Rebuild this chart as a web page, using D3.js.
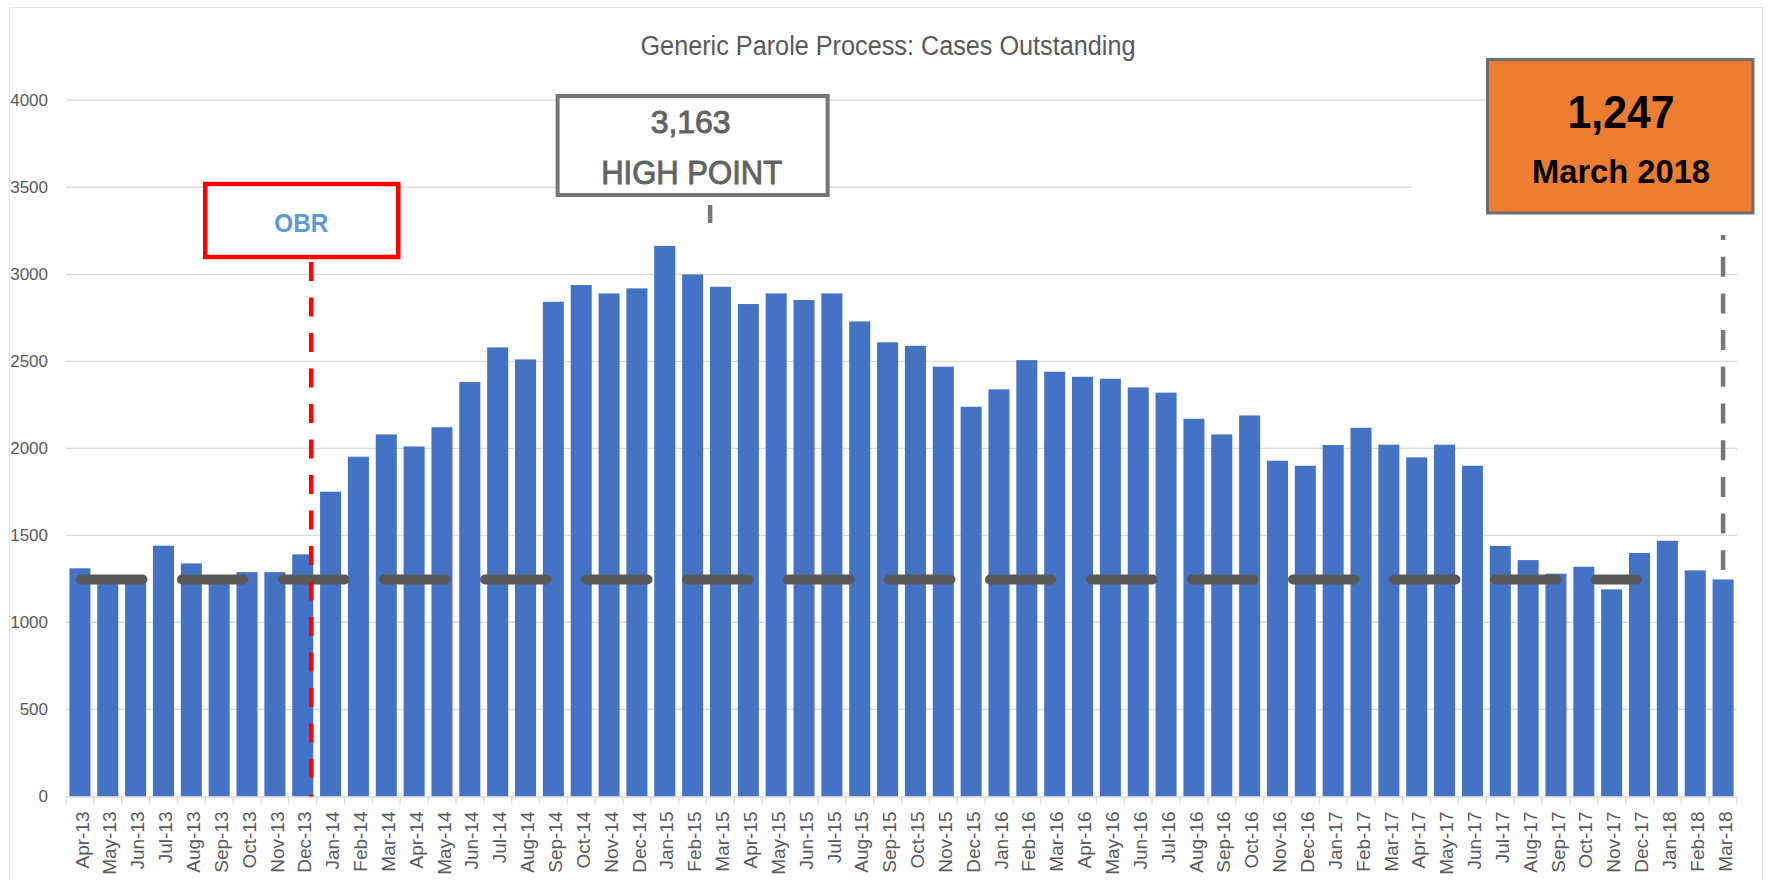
<!DOCTYPE html>
<html>
<head>
<meta charset="utf-8">
<script src="https://cdn.jsdelivr.net/npm/d3@7"></script>
<style>
  body { margin: 0; background: #fff; }
  svg { display: block; font-family: "Liberation Sans", Arial, sans-serif; }
</style>
</head>
<body>
<svg id="chart" width="1769" height="880"></svg>
<script>
// Data
const months = [
  "Apr-13", "May-13", "Jun-13", "Jul-13", "Aug-13", "Sep-13", "Oct-13", "Nov-13", "Dec-13",
  "Jan-14", "Feb-14", "Mar-14", "Apr-14", "May-14", "Jun-14", "Jul-14", "Aug-14", "Sep-14", "Oct-14", "Nov-14", "Dec-14",
  "Jan-15", "Feb-15", "Mar-15", "Apr-15", "May-15", "Jun-15", "Jul-15", "Aug-15", "Sep-15", "Oct-15", "Nov-15", "Dec-15",
  "Jan-16", "Feb-16", "Mar-16", "Apr-16", "May-16", "Jun-16", "Jul-16", "Aug-16", "Sep-16", "Oct-16", "Nov-16", "Dec-16",
  "Jan-17", "Feb-17", "Mar-17", "Apr-17", "May-17", "Jun-17", "Jul-17", "Aug-17", "Sep-17", "Oct-17", "Nov-17", "Dec-17",
  "Jan-18", "Feb-18", "Mar-18"
];
const cases = [
  1311, 1240, 1235, 1441, 1339, 1245, 1289, 1289, 1391,
  1751, 1952, 2080, 2011, 2121, 2381, 2580, 2511, 2842, 2938, 2890, 2919,
  3163, 2999, 2928, 2829, 2890, 2852, 2890, 2729, 2609, 2589, 2469, 2239,
  2339, 2507, 2440, 2411, 2400, 2350, 2320, 2170, 2080, 2189, 1929, 1900,
  2019, 2118, 2021, 1948, 2021, 1900, 1439, 1358, 1280, 1320, 1190, 1399,
  1469, 1299, 1247
];
const yTicks = [0, 500, 1000, 1500, 2000, 2500, 3000, 3500, 4000];
const baselineValue = 1247;

const chartTitle = "Generic Parole Process: Cases Outstanding";
const obrMonth = "Dec-13";
const obrLabel = "OBR";
const peakMonth = "Feb-15";
const peakLabel = ["3,163", "HIGH POINT"];
const latestMonth = "Mar-18";
const latestLabel = ["1,247", "March 2018"];

// Colors
const barBlue = "#4472c4";
const gridGray = "#d9d9d9";
const textGray = "#595959";

const svg = d3.select("#chart");

// Chart area border
svg.append("rect")
  .attr("x", 9.5)
  .attr("y", 7.5)
  .attr("width", 1753)
  .attr("height", 890)
  .attr("fill", "#fff")
  .attr("stroke", "#e3e3e3");

// Scales
const pad = 0.245;
const xScale = d3.scaleBand()
  .domain(months)
  .range([66, 1737])
  .paddingInner(pad)
  .paddingOuter(pad / 2);
const step = xScale.step();
const yScale = d3.scaleLinear()
  .domain([0, 4000])
  .range([796.5, 100.2]);

// Title
svg.append("text")
  .attr("x", 888)
  .attr("y", 55)
  .attr("text-anchor", "middle")
  .attr("font-size", 27)
  .attr("textLength", 495)
  .attr("lengthAdjust", "spacingAndGlyphs")
  .attr("fill", textGray)
  .text(chartTitle);

// Gridlines
svg.append("g")
  .selectAll("line")
  .data(yTicks.filter(d => d > 0))
  .join("line")
    .attr("x1", 66)
    .attr("x2", 1737)
    .attr("y1", d => yScale(d))
    .attr("y2", d => yScale(d))
    .attr("stroke", gridGray)
    .attr("stroke-width", 1.3);

// the 3500 gridline stops short on the right in the original
svg.append("rect")
  .attr("x", xScale("Apr-17") + 6)
  .attr("y", yScale(3580))
  .attr("width", 340)
  .attr("height", yScale(3420) - yScale(3580))
  .attr("fill", "#fff");

// Y labels
svg.append("g")
  .selectAll("text")
  .data(yTicks)
  .join("text")
    .attr("x", 48)
    .attr("y", d => yScale(d))
    .attr("dy", "0.35em")
    .attr("text-anchor", "end")
    .attr("font-size", 17)
    .attr("fill", textGray)
    .text(d => d);

// Bars
svg.append("g")
  .selectAll("rect")
  .data(months)
  .join("rect")
    .attr("x", d => xScale(d))
    .attr("width", xScale.bandwidth())
    .attr("y", (d, i) => yScale(cases[i]))
    .attr("height", (d, i) => yScale(0) - yScale(cases[i]))
    .attr("fill", barBlue);

// X axis
const bottomAxis = d3.axisBottom(xScale).tickSize(0).tickSizeOuter(0);
const xAxis = svg.append("g")
  .attr("class", "axis-x")
  .attr("transform", `translate(0,${yScale(0)})`)
  .call(bottomAxis);
xAxis.select(".domain")
  .attr("stroke", gridGray)
  .attr("stroke-width", 1.5);
xAxis.selectAll("text")
  .attr("transform", "rotate(-90)")
  .attr("text-anchor", "end")
  .attr("x", -15)
  .attr("y", 2)
  .attr("dy", "0.35em")
  .attr("font-size", 19)
  .attr("font-family", "Liberation Sans, Arial, sans-serif")
  .attr("fill", textGray);

// tick marks sit between categories
xAxis.selectAll(".boundary")
  .data(months.concat("end"))
  .join("line")
    .attr("class", "boundary")
    .attr("x1", (d, i) => xScale.range()[0] + i * step)
    .attr("x2", (d, i) => xScale.range()[0] + i * step)
    .attr("y1", 0)
    .attr("y2", 7)
    .attr("stroke", gridGray)
    .attr("stroke-width", 1.3);

// Dashed reference line at the current value
svg.append("line")
  .attr("x1", xScale.range()[0] + 15)
  .attr("x2", xScale("Dec-17") + 8)
  .attr("y1", yScale(baselineValue))
  .attr("y2", yScale(baselineValue))
  .attr("stroke", textGray)
  .attr("stroke-width", 10)
  .attr("stroke-linecap", "round")
  .attr("stroke-dasharray", "61.5,39.5");

// OBR marker
const obrX = xScale(obrMonth) + xScale.bandwidth() - 2;
svg.append("line")
  .attr("x1", obrX)
  .attr("x2", obrX)
  .attr("y1", 262)
  .attr("y2", yScale(0))
  .attr("stroke", "#ff0000")
  .attr("stroke-width", 4.5)
  .attr("stroke-dasharray", "19,16.5");

svg.append("rect")
  .attr("x", obrX - 106)
  .attr("y", 184)
  .attr("width", 193)
  .attr("height", 73)
  .attr("fill", "#fff")
  .attr("stroke", "#ff0000")
  .attr("stroke-width", 4.5);

svg.append("text")
  .attr("x", obrX - 10)
  .attr("y", 232)
  .attr("text-anchor", "middle")
  .attr("font-size", 25)
  .attr("font-weight", "bold")
  .attr("textLength", 54)
  .attr("lengthAdjust", "spacingAndGlyphs")
  .attr("fill", "#5b9bd5")
  .text(obrLabel);

// High point box
const peakX = xScale(peakMonth) + xScale.bandwidth() / 2;
svg.append("line")
  .attr("x1", peakX + 17.5)
  .attr("x2", peakX + 17.5)
  .attr("y1", 205)
  .attr("y2", 223)
  .attr("stroke", "#767676")
  .attr("stroke-width", 4.5);

svg.append("rect")
  .attr("x", peakX - 135)
  .attr("y", 96)
  .attr("width", 270)
  .attr("height", 99)
  .attr("fill", "#fff")
  .attr("stroke", "#767676")
  .attr("stroke-width", 4);

svg.append("text")
  .attr("x", peakX - 2)
  .attr("y", 133)
  .attr("text-anchor", "middle")
  .attr("font-size", 32)
  .attr("textLength", 80)
  .attr("lengthAdjust", "spacingAndGlyphs")
  .attr("fill", "#636363")
  .attr("stroke", "#636363")
  .attr("stroke-width", 1)
  .text(peakLabel[0]);

svg.append("text")
  .attr("x", peakX - 1)
  .attr("y", 184)
  .attr("text-anchor", "middle")
  .attr("font-size", 34)
  .attr("textLength", 181)
  .attr("lengthAdjust", "spacingAndGlyphs")
  .attr("fill", "#636363")
  .attr("stroke", "#636363")
  .attr("stroke-width", 1)
  .text(peakLabel[1]);

// Latest value marker
const latestX = xScale(latestMonth) + xScale.bandwidth() / 2;
svg.append("line")
  .attr("x1", latestX)
  .attr("x2", latestX)
  .attr("y1", 235)
  .attr("y2", 570)
  .attr("stroke", "#767676")
  .attr("stroke-width", 4.5)
  .attr("stroke-dasharray", "20,16.7")
  .attr("stroke-dashoffset", 15);

svg.append("rect")
  .attr("x", 1487.5)
  .attr("y", 59.5)
  .attr("width", 265.5)
  .attr("height", 153.5)
  .attr("fill", "#ed7d31")
  .attr("stroke", "#6f6f6f")
  .attr("stroke-width", 3);

svg.append("text")
  .attr("x", 1621)
  .attr("y", 128)
  .attr("text-anchor", "middle")
  .attr("font-size", 46)
  .attr("font-weight", "bold")
  .attr("textLength", 107)
  .attr("lengthAdjust", "spacingAndGlyphs")
  .attr("fill", "#000")
  .text(latestLabel[0]);

svg.append("text")
  .attr("x", 1621)
  .attr("y", 183)
  .attr("text-anchor", "middle")
  .attr("font-size", 33)
  .attr("font-weight", "bold")
  .attr("textLength", 178)
  .attr("lengthAdjust", "spacingAndGlyphs")
  .attr("fill", "#000")
  .text(latestLabel[1]);
</script>
</body>
</html>
